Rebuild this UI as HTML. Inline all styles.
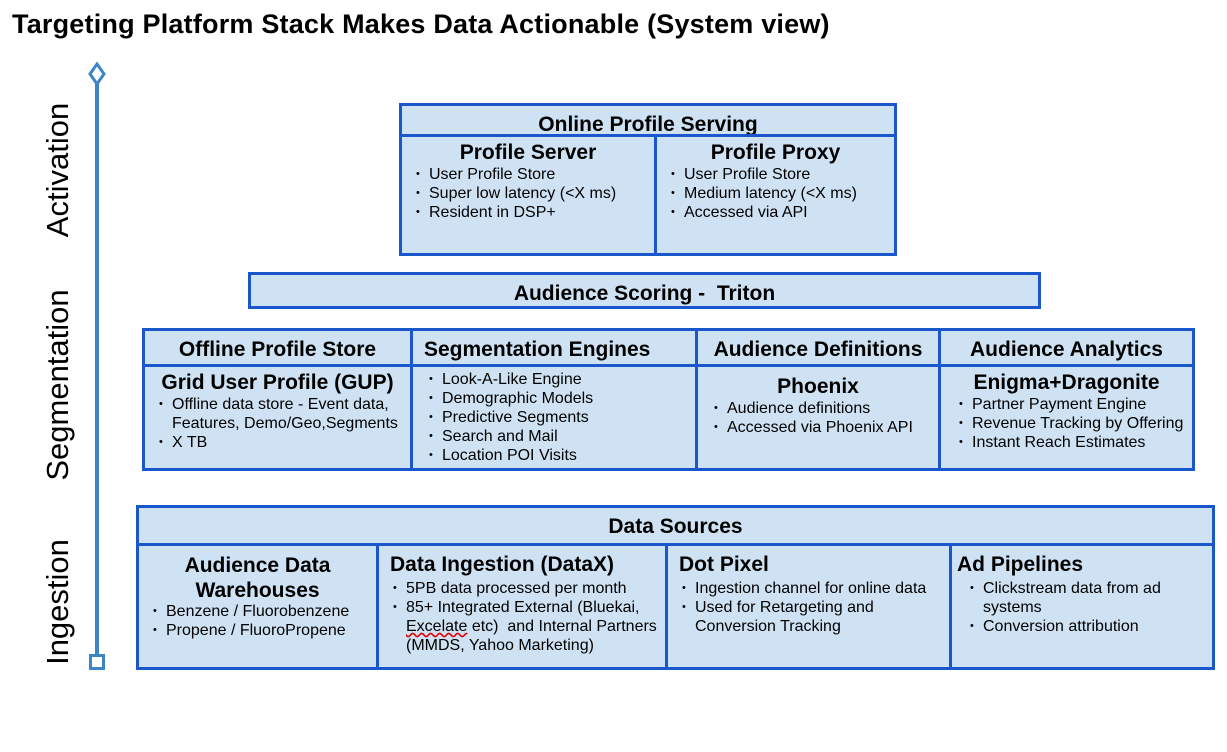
<!DOCTYPE html>
<html><head><meta charset="utf-8"><style>
*{margin:0;padding:0;box-sizing:border-box}
body{width:1227px;height:679px;background:#fff;position:relative;overflow:hidden;font-family:"Liberation Sans",Arial,sans-serif;color:#000}
.b{position:absolute;background:#cfe2f3;border:3px solid #1a56cc}
.h{font-weight:bold;font-size:21px;text-align:center;position:absolute;left:0;right:0;white-space:nowrap}
.t{position:absolute;font-weight:bold;font-size:21px;white-space:nowrap}
ul{position:absolute;list-style:none;font-size:16px;line-height:19px;white-space:nowrap}
li{padding-left:13px;position:relative}
li:before{content:"•";position:absolute;left:0;font-size:11px}
li.c:before{content:""}
.lab{position:absolute;font-size:31px;transform:rotate(-90deg);transform-origin:center;white-space:nowrap;text-align:center;width:300px;left:-92px}
</style></head><body>
<div style="position:absolute;left:12px;top:9px;font-weight:bold;font-size:27px;letter-spacing:0.2px">Targeting Platform Stack Makes Data Actionable (System view)</div>

<!-- axis -->
<div style="position:absolute;left:95px;top:82px;width:4px;height:576px;background:#3d85c6"></div>
<svg style="position:absolute;left:87px;top:62px" width="20" height="24"><polygon points="10,2 17,12 10,22 3,12" fill="#fff" stroke="#3d85c6" stroke-width="3"/></svg>
<div style="position:absolute;left:89px;top:654px;width:16px;height:16px;border:3px solid #3d85c6;background:#fff"></div>
<div class="lab" style="top:152px">Activation</div>
<div class="lab" style="top:367px">Segmentation</div>
<div class="lab" style="top:584px">Ingestion</div>

<!-- Online profile serving -->
<div class="b" style="left:399px;top:103px;width:498px;height:34px"><div class="h" style="top:7px">Online Profile Serving</div></div>
<div class="b" style="left:399px;top:134px;width:258px;height:122px">
<div class="h" style="top:4px">Profile Server</div>
<ul style="left:14px;top:28px"><li>User Profile Store</li><li>Super low latency (&lt;X ms)</li><li>Resident in DSP+</li></ul></div>
<div class="b" style="left:654px;top:134px;width:243px;height:122px">
<div class="h" style="top:4px">Profile Proxy</div>
<ul style="left:14px;top:28px"><li>User Profile Store</li><li>Medium latency (&lt;X ms)</li><li>Accessed via API</li></ul></div>

<!-- Audience scoring -->
<div class="b" style="left:248px;top:272px;width:793px;height:37px"><div class="h" style="top:7px">Audience Scoring -&nbsp; Triton</div></div>

<!-- Segmentation row -->
<div class="b" style="left:142px;top:328px;width:271px;height:39px"><div class="h" style="top:7px">Offline Profile Store</div></div>
<div class="b" style="left:142px;top:364px;width:271px;height:107px">
<div class="h" style="top:4px">Grid User Profile (GUP)</div>
<ul style="left:14px;top:28px"><li>Offline data store - Event data,</li><li class="c">Features, Demo/Geo,Segments</li><li>X TB</li></ul></div>
<div class="b" style="left:410px;top:328px;width:288px;height:39px"><div class="h" style="top:7px;text-align:left;left:11px">Segmentation Engines</div></div>
<div class="b" style="left:410px;top:364px;width:288px;height:107px">
<ul style="left:16px;top:3px"><li>Look-A-Like Engine</li><li>Demographic Models</li><li>Predictive Segments</li><li>Search and Mail</li><li>Location POI Visits</li></ul></div>
<div class="b" style="left:695px;top:328px;width:246px;height:39px"><div class="h" style="top:7px">Audience Definitions</div></div>
<div class="b" style="left:695px;top:364px;width:246px;height:107px">
<div class="h" style="top:8px">Phoenix</div>
<ul style="left:16px;top:32px"><li>Audience definitions</li><li>Accessed via Phoenix API</li></ul></div>
<div class="b" style="left:938px;top:328px;width:257px;height:39px"><div class="h" style="top:7px">Audience Analytics</div></div>
<div class="b" style="left:938px;top:364px;width:257px;height:107px">
<div class="h" style="top:4px">Enigma+Dragonite</div>
<ul style="left:18px;top:28px"><li>Partner Payment Engine</li><li>Revenue Tracking by Offering</li><li>Instant Reach Estimates</li></ul></div>

<!-- Data sources -->
<div class="b" style="left:136px;top:505px;width:1079px;height:41px"><div class="h" style="top:7px">Data Sources</div></div>
<div class="b" style="left:136px;top:543px;width:243px;height:127px">
<div class="h" style="top:7px;line-height:25px">Audience Data<br>Warehouses</div>
<ul style="left:14px;top:56px"><li>Benzene / Fluorobenzene</li><li>Propene / FluoroPropene</li></ul></div>
<div class="b" style="left:376px;top:543px;width:292px;height:127px">
<div class="t" style="left:11px;top:7px">Data Ingestion (DataX)</div>
<ul style="left:14px;top:33px"><li>5PB data processed per month</li><li>85+ Integrated External (Bluekai,</li><li class="c"><span style="text-decoration:underline wavy #d00">Excelate</span> etc)&nbsp; and Internal Partners</li><li class="c">(MMDS, Yahoo Marketing)</li></ul></div>
<div class="b" style="left:665px;top:543px;width:287px;height:127px">
<div class="t" style="left:11px;top:7px">Dot Pixel</div>
<ul style="left:14px;top:33px"><li>Ingestion channel for online data</li><li>Used for Retargeting and</li><li class="c">Conversion Tracking</li></ul></div>
<div class="b" style="left:949px;top:543px;width:266px;height:127px">
<div class="t" style="left:5px;top:7px">Ad Pipelines</div>
<ul style="left:18px;top:33px"><li>Clickstream data from ad</li><li class="c">systems</li><li>Conversion attribution</li></ul></div>
</body></html>
